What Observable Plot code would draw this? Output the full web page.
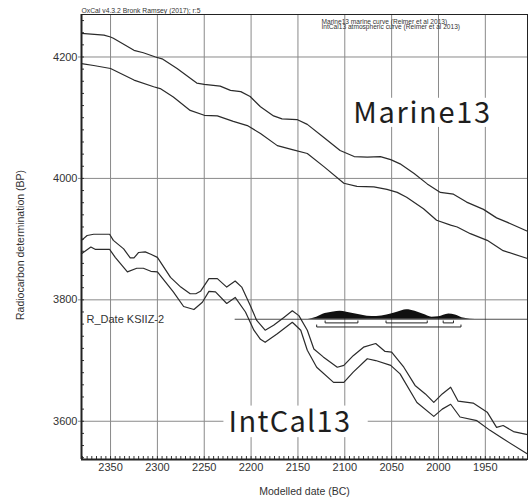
<!DOCTYPE html>
<html><head><meta charset="utf-8">
<script src="https://cdn.jsdelivr.net/npm/d3@7"></script>
<script src="https://cdn.jsdelivr.net/npm/@observablehq/plot@0.6"></script>
<style>body{margin:0;background:#fff} svg{display:block}</style>
</head><body><div id="chart"></div>
<script>
// ---- data (years BC, radiocarbon BP) ----
const marineUpperYears = [2381,2357,2350,2347,2325,2315,2302,2295,2279,2258,2250,2233,2222,2211,2201,2190,2176,2167,2151,2140,2122,2105,2090,2076,2062,2051,2041,2026,2012,1998,1984,1970,1952,1938,1927,1905];
const marineUpperBP    = [4239,4236,4233,4231,4211,4207,4200,4197,4181,4157,4155,4152,4145,4143,4135,4118,4103,4098,4097,4089,4067,4046,4036,4035,4036,4031,4024,4008,3991,3977,3974,3961,3949,3935,3928,3913];
const marineLowerYears = [2381,2368,2350,2325,2304,2297,2283,2265,2250,2236,2219,2204,2190,2172,2155,2140,2122,2101,2087,2069,2055,2044,2034,2016,2002,1987,1980,1966,1948,1931,1905];
const marineLowerBP    = [4189,4186,4181,4162,4151,4148,4134,4112,4104,4103,4094,4087,4074,4054,4047,4041,4019,3992,3987,3986,3982,3977,3969,3950,3931,3923,3920,3909,3898,3881,3868];
const intcalUpperYears = [2381,2375,2368,2351,2347,2336,2329,2325,2320,2313,2307,2300,2286,2275,2265,2259,2254,2245,2236,2226,2217,2210,2201,2194,2185,2176,2165,2156,2149,2140,2133,2123,2108,2101,2091,2080,2067,2057,2050,2037,2025,2014,2005,1996,1987,1979,1963,1948,1938,1931,1920,1905];
const intcalUpperBP    = [3898,3906,3908,3908,3898,3884,3869,3869,3878,3879,3875,3870,3837,3821,3810,3810,3814,3835,3835,3821,3831,3821,3791,3766,3750,3758,3771,3782,3774,3750,3719,3706,3689,3692,3708,3722,3728,3715,3714,3689,3659,3645,3631,3645,3656,3633,3630,3615,3590,3593,3583,3578];
const intcalLowerYears = [2381,2371,2366,2351,2345,2332,2322,2315,2307,2300,2283,2272,2261,2252,2245,2238,2226,2217,2206,2197,2190,2185,2172,2156,2147,2140,2130,2112,2101,2091,2076,2067,2051,2041,2023,2005,1996,1987,1977,1959,1945,1931,1905];
const intcalLowerBP    = [3876,3887,3883,3883,3870,3846,3852,3852,3847,3846,3813,3789,3784,3796,3814,3813,3794,3804,3780,3750,3735,3730,3744,3763,3750,3717,3689,3664,3664,3681,3703,3700,3692,3678,3631,3608,3620,3628,3607,3601,3585,3571,3546];

const rDateLabel = "R_Date KSIIZ-2";
const rDateBP = 3768;
const probYears   = [2139,2130,2121,2112,2105,2098,2087,2076,2066,2055,2044,2034,2025,2016,2007,2000,1989,1982,1975,1966,1955];
const probDensity = [0,0.22,0.6,0.78,0.85,0.74,0.52,0.33,0.3,0.44,0.74,1.0,0.85,0.52,0.22,0.26,0.56,0.44,0.16,0.04,0];
const oneSigmaRanges = [[2121,2086],[2056,2012],[1995,1984]];
const twoSigmaRanges = [[2130,1976]];

const xTicks = [2350,2300,2250,2200,2150,2100,2050,2000,1950];
const yTicks = [3600,3800,4000,4200];
const headerText = "OxCal v4.3.2 Bronk Ramsey (2017); r:5";
const legendLines = ["Marine13 marine curve (Reimer et al 2013)", "IntCal13 atmospheric curve (Reimer et al 2013)"];
const curveLabels = [
  {name: "Marine13", year: 2091, bp: 4091, box: [2094, 1942, 4084, 4132]},
  {name: "IntCal13", year: 2224, bp: 3583, box: [2229, 2075, 3573, 3625]}
];
const xTitle = "Modelled date (BC)";
const yTitle = "Radiocarbon determination (BP)";

// ---- layout ----
const W = 528, H = 501, mL = 81, mR = 1, mT = 14, mB = 42;
const frameW = W - mL - mR, frameH = H - mT - mB;
const xDomain = [2381, 1905], yDomain = [3537, 4270];

const toPts = (ys, vs) => ys.map((y, i) => ({year: y, bp: vs[i]}));
const curves = [
  ...toPts(marineUpperYears, marineUpperBP).map(d => ({...d, s: "mu"})),
  ...toPts(marineLowerYears, marineLowerBP).map(d => ({...d, s: "ml"})),
  ...toPts(intcalUpperYears, intcalUpperBP).map(d => ({...d, s: "iu"})),
  ...toPts(intcalLowerYears, intcalLowerBP).map(d => ({...d, s: "il"}))
];
const prob = probYears.map((y, i) => ({year: y, p: probDensity[i]}));
const probScale = 15.5; // BP units at peak
const row1 = rDateBP - 6, row2 = rDateBP - 12.7, tick = 3.3;
const brackets = [];
oneSigmaRanges.forEach((r, i) => {
  [[r[0], row1 + tick], [r[0], row1], [r[1], row1], [r[1], row1 + tick]].forEach(p => brackets.push({k: "a" + i, year: p[0], bp: p[1]}));
});
twoSigmaRanges.forEach((r, i) => {
  [[r[0], row2 + tick], [r[0], row2], [r[1], row2], [r[1], row2 + tick]].forEach(p => brackets.push({k: "b" + i, year: p[0], bp: p[1]}));
});
const xMinor = d3.range(1910, 2381, 5);
const yMinor = d3.range(3540, 4270, 20);

const chart = Plot.plot({
  width: W, height: H,
  marginLeft: mL, marginRight: mR, marginTop: mT, marginBottom: mB,
  x: {domain: xDomain},
  y: {domain: yDomain},
  style: {fontFamily: "'Liberation Sans', Arial, sans-serif", fontSize: "11px", color: "#333", background: "#fff"},
  marks: [
    Plot.ruleX(xTicks, {x: d => d, stroke: "#8a8a8a", strokeWidth: 1}),
    Plot.ruleY(yTicks, {y: d => d, stroke: "#8a8a8a", strokeWidth: 1}),
    Plot.tickX(xMinor, {x: d => d, insetTop: frameH - 3, stroke: "#333"}),
    Plot.tickY(yMinor, {y: d => d, insetRight: frameW - 3, stroke: "#333"}),
    Plot.axisX(xTicks, {tickSize: 0, tickPadding: 4, tickFormat: d => String(d), label: null, fontSize: 11, fill: "#333"}),
    Plot.axisY(yTicks, {tickSize: 3, tickPadding: 1, tickFormat: d => String(d), label: null, fontSize: 11, fill: "#333", stroke: "#8a8a8a"}),
    Plot.rect(curveLabels, {x1: d => d.box[0], x2: d => d.box[1], y1: d => d.box[2], y2: d => d.box[3], fill: "#fff"}),
    Plot.line(curves, {x: "year", y: "bp", z: "s", stroke: "#2b2b2b", strokeWidth: 1.2}),
    Plot.ruleY([rDateBP], {y: d => d, x1: 2217, x2: xDomain[1], stroke: "#222", strokeWidth: 0.8}),
    Plot.areaY(prob, {x: "year", y1: rDateBP, y2: d => rDateBP + d.p * probScale, fill: "#111", curve: "monotone-x"}),
    Plot.line(brackets, {x: "year", y: "bp", z: "k", stroke: "#222", strokeWidth: 1}),
    Plot.text([rDateLabel], {x: xDomain[0], y: rDateBP, text: d => d, dx: 5, textAnchor: "start", lineAnchor: "middle", fontSize: 11, fill: "#333"}),
    Plot.text(curveLabels, {x: "year", y: "bp", text: "name", textAnchor: "start", lineAnchor: "bottom", fontSize: 29, fontFamily: "'Noto Sans CJK JP', 'Noto Sans', sans-serif", fill: "#1e1e1e", className: "curve-label"}),
    Plot.ruleX([xDomain[0]], {x: d => d, stroke: "#222", strokeWidth: 2}),
    Plot.ruleY([yDomain[0]], {y: d => d, stroke: "#222", strokeWidth: 2}),
    Plot.frame({stroke: "#222", strokeWidth: 1}),
    Plot.text([headerText], {frameAnchor: "top-left", text: d => d, dy: -2, lineAnchor: "bottom", textAnchor: "start", fontSize: 6.8, fill: "#333"}),
    Plot.text([legendLines[0]], {frameAnchor: "top-left", text: d => d, dx: 240, dy: 9, lineAnchor: "bottom", textAnchor: "start", fontSize: 6.6, fill: "#333"}),
    Plot.text([legendLines[1]], {frameAnchor: "top-left", text: d => d, dx: 240, dy: 14.5, lineAnchor: "bottom", textAnchor: "start", fontSize: 6.6, fill: "#333"}),
    Plot.text([xTitle], {frameAnchor: "bottom", text: d => d, dy: 32, textAnchor: "middle", lineAnchor: "middle", fontSize: 10.5, fill: "#333"}),
    Plot.text([yTitle], {frameAnchor: "left", text: d => d, dx: -61, dy: 8, rotate: -90, textAnchor: "middle", lineAnchor: "middle", fontSize: 10.5, fill: "#333"})
  ]
});
// wider tracking for the big curve labels, as in the reference
d3.select(chart).selectAll("text").each(function() {
  const t = this.textContent;
  if (t === "Marine13") this.style.letterSpacing = "1.7px";
  if (t === "IntCal13") this.style.letterSpacing = "1.3px";
});
document.getElementById("chart").append(chart);
</script>
</body></html>
